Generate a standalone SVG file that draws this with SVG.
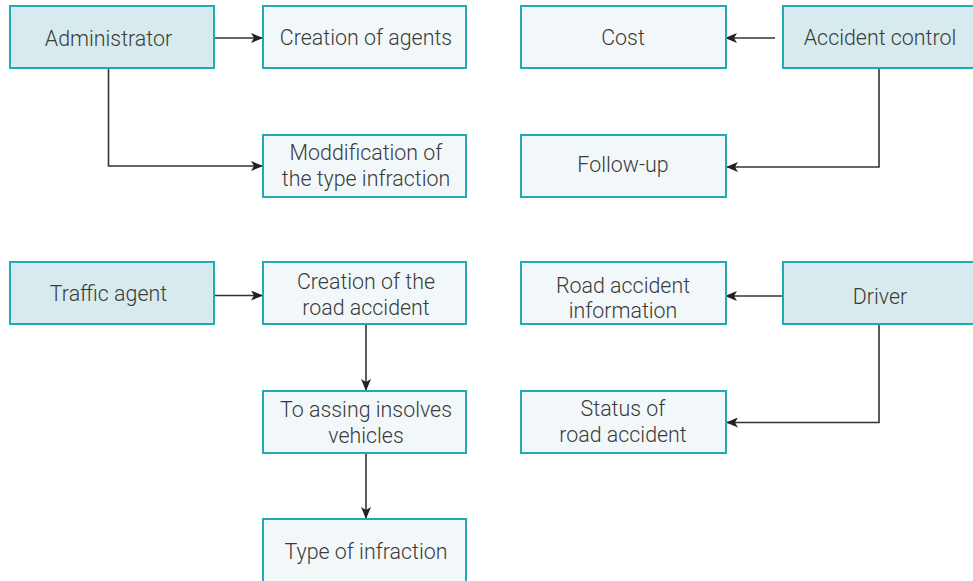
<svg xmlns="http://www.w3.org/2000/svg" width="973" height="581" viewBox="0 0 973 581">
<style>
.main{fill:#d7ebee;stroke:#21aab0;stroke-width:2}
.sub{fill:#f2f8fa;stroke:#21aab0;stroke-width:2}
text{font-family:Roboto,"Liberation Sans",sans-serif;font-weight:300;font-size:21.4px;fill:#3a3a3a;text-anchor:middle}
.c{fill:none;stroke:#333;stroke-width:1.6}
</style>
<defs>
<marker id="ah" viewBox="0 0 12 10" refX="11" refY="5" markerWidth="12" markerHeight="10" markerUnits="userSpaceOnUse" orient="auto">
<path d="M0,0 L12,5 L0,10 L3,5 Z" fill="#222"/>
</marker>
</defs>
<rect width="973" height="581" fill="#fff"/>
<g id="connectors">
<path class="c" d="M214,38 H262" marker-end="url(#ah)"/>
<path class="c" d="M108.5,68 V166 H262" marker-end="url(#ah)"/>
<path class="c" d="M775,38 H726" marker-end="url(#ah)"/>
<path class="c" d="M879,68 V167 H727" marker-end="url(#ah)"/>
<path class="c" d="M214,295.5 H262" marker-end="url(#ah)"/>
<path class="c" d="M366,324 V390" marker-end="url(#ah)"/>
<path class="c" d="M366,453 V518" marker-end="url(#ah)"/>
<path class="c" d="M783,296 H726" marker-end="url(#ah)"/>
<path class="c" d="M879,324 V422.5 H727" marker-end="url(#ah)"/>
</g>
<g id="administrator"><rect class="main" x="10" y="6" width="204" height="62"/><text x="108.5" y="46">Administrator</text></g>
<g id="creation-agents"><rect class="sub" x="263" y="6" width="203" height="62"/><text x="366" y="45">Creation of agents</text></g>
<g id="modification"><rect class="sub" x="263" y="135" width="203" height="62"/><text x="366" y="160">Moddification of</text><text x="366" y="186">the type infraction</text></g>
<g id="cost"><rect class="sub" x="521" y="6" width="205" height="62"/><text x="623" y="45">Cost</text></g>
<g id="accident-control"><rect class="main" x="783" y="6" width="192" height="62"/><text x="880" y="45">Accident control</text></g>
<g id="follow-up"><rect class="sub" x="521" y="135" width="205" height="62"/><text x="623" y="172">Follow-up</text></g>
<g id="traffic-agent"><rect class="main" x="10" y="262" width="204" height="62"/><text x="108.5" y="301">Traffic agent</text></g>
<g id="creation-road"><rect class="sub" x="263" y="262" width="203" height="62"/><text x="366" y="289">Creation of the</text><text x="366" y="315">road accident</text></g>
<g id="assign"><rect class="sub" x="263" y="391" width="203" height="62"/><text x="366" y="417">To assing insolves</text><text x="366" y="443">vehicles</text></g>
<g id="type-infraction"><rect class="sub" x="263" y="519" width="203" height="64"/><text x="366" y="559">Type of infraction</text></g>
<g id="driver"><rect class="main" x="783" y="262" width="192" height="62"/><text x="880" y="304">Driver</text></g>
<g id="road-info"><rect class="sub" x="521" y="262" width="205" height="62"/><text x="623" y="293">Road accident</text><text x="623" y="318">information</text></g>
<g id="status"><rect class="sub" x="521" y="391" width="205" height="62"/><text x="623" y="416">Status of</text><text x="623" y="442">road accident</text></g>
</svg>
